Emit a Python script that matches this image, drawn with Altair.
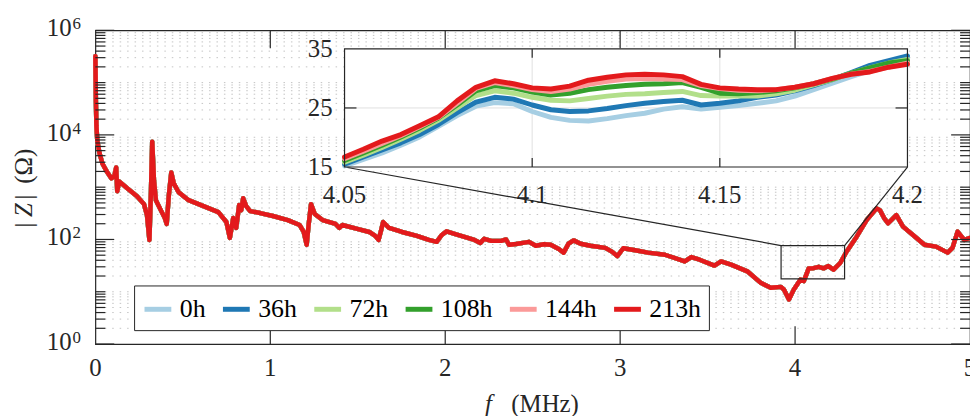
import altair as alt
import pandas as pd

# ---------------- data ----------------
SERIES = ["0h", "36h", "72h", "108h", "144h", "213h"]
COLORS = ["#a6cee3", "#1f78b4", "#b2df8a", "#33a02c", "#fb9a99", "#e31a1c"]

F_MAIN = [0, 0.003, 0.006, 0.011, 0.023, 0.040, 0.068, 0.091, 0.108, 0.119,
          0.125, 0.136, 0.182, 0.238, 0.278, 0.295, 0.309, 0.318, 0.325, 0.335,
          0.346, 0.374, 0.397, 0.408, 0.420, 0.434, 0.448, 0.476, 0.533, 0.618,
          0.703, 0.749, 0.769, 0.788, 0.805, 0.822, 0.834, 0.845, 0.862, 0.885,
          0.942, 1.015, 1.100, 1.168, 1.191, 1.208, 1.219, 1.233, 1.254, 1.299,
          1.373, 1.395, 1.412, 1.497, 1.566, 1.600, 1.619, 1.634, 1.645, 1.679,
          1.753, 1.838, 1.906, 1.951, 1.980, 2.008, 2.053, 2.110, 2.167, 2.201,
          2.223, 2.263, 2.320, 2.348, 2.365, 2.405, 2.462, 2.479, 2.518, 2.564,
          2.603, 2.649, 2.677, 2.705, 2.734, 2.774, 2.830, 2.915, 2.955, 2.984,
          3.018, 3.086, 3.159, 3.256, 3.369, 3.407, 3.454, 3.539, 3.577, 3.634,
          3.727, 3.804, 3.861, 3.918, 3.936, 3.965, 3.993, 4.012, 4.031, 4.050,
          4.078, 4.100, 4.135, 4.163, 4.190, 4.220, 4.258, 4.295, 4.352, 4.409,
          4.466, 4.485, 4.509, 4.532, 4.579, 4.617, 4.674, 4.740, 4.806, 4.872,
          4.900, 4.929, 4.967, 5.0]
Z_MAIN = [318000, 44600, 14960, 7760, 4590, 2840, 1920, 1476, 1610, 2388,
          836, 1294, 953, 672, 474, 293, 98, 873, 7430, 1352,
          564, 364, 257, 198, 702, 1918, 1186, 800, 564, 434,
          334, 216, 107, 257, 166, 454, 364, 615, 434, 349,
          320, 281, 235, 189, 139, 79, 189, 474, 306, 235,
          198, 166, 189, 159, 139, 117, 98, 152, 216, 166,
          139, 117, 98, 90, 122, 143, 128, 112, 98, 86,
          103, 94, 94, 100, 79, 82, 88, 90, 76, 81,
          79, 66, 56, 83, 96, 83, 76, 69, 58, 48,
          68, 62, 56, 51, 38, 46, 41, 31.6, 38, 33,
          24.6, 14.8, 11.9, 12.4, 11.1, 7.1, 11.1, 13.8, 17.1, 16,
          28, 28, 30, 28, 31, 26.5, 35.5, 59, 113, 235,
          393, 364, 257, 204, 293, 176, 122, 79, 73, 56,
          69, 141, 98, 107]

F_INSET = [4.050, 4.055, 4.060, 4.065, 4.070, 4.075, 4.080, 4.085, 4.090, 4.095,
           4.100, 4.105, 4.110, 4.115, 4.120, 4.125, 4.130, 4.135, 4.140, 4.145,
           4.150, 4.155, 4.160, 4.165, 4.170, 4.175, 4.180, 4.185, 4.190, 4.195,
           4.200]
Z_0H = [15.2, 16.3, 17.4, 18.7, 20.1, 21.9, 23.7, 25.3, 25.9, 25.7,
        24.4, 23.4, 22.9, 22.8, 23.2, 23.7, 24.1, 24.8, 25.2, 24.8,
        25.1, 25.4, 25.8, 26.2, 27.0, 28.1, 29.2, 30.3, 31.3, 32.6,
        33.2]
Z_36H = [15.5, 16.7, 17.9, 19.1, 20.5, 22.2, 24.2, 26.0, 26.8, 26.5,
         25.5, 24.7, 24.4, 24.5, 24.9, 25.4, 25.8, 26.1, 26.3, 25.5,
         25.8, 26.2, 26.8, 27.2, 27.9, 28.8, 29.8, 31.0, 32.2, 33.0,
         33.8]
Z_72H = [15.8, 17.0, 18.3, 19.7, 21.2, 22.9, 25.0, 27.1, 27.9, 27.5,
         26.8, 26.3, 26.2, 26.6, 27.0, 27.3, 27.4, 27.6, 27.8, 27.1,
         27.0, 27.0, 27.0, 27.4, 28.0, 28.9, 29.8, 30.9, 31.8, 32.6,
         33.2]
Z_108H = [16.1, 17.4, 18.7, 20.1, 21.6, 23.3, 25.5, 27.9, 28.8, 28.4,
          27.7, 27.2, 27.5, 28.1, 28.5, 28.8, 29.0, 29.1, 29.3, 28.5,
          27.5, 27.4, 27.6, 27.9, 28.4, 29.1, 29.9, 30.9, 31.8, 32.6,
          33.0]
Z_144H = [16.4, 17.7, 19.0, 20.3, 21.8, 23.4, 25.8, 28.3, 29.3, 28.8,
          28.1, 27.8, 28.2, 29.0, 29.5, 29.9, 30.0, 29.9, 29.8, 28.8,
          28.3, 28.0, 27.9, 28.1, 28.5, 29.1, 30.0, 30.7, 31.2, 31.9,
          32.6]
Z_213H = [16.7, 18.0, 19.4, 20.5, 22.0, 23.5, 26.2, 28.5, 29.6, 29.1,
          28.4, 28.2, 28.7, 29.7, 30.2, 30.6, 30.7, 30.6, 30.3, 29.0,
          28.4, 28.2, 28.1, 28.1, 28.5, 29.1, 30.0, 30.7, 31.1, 31.9,
          32.4]
Z_INSET = [Z_0H, Z_36H, Z_72H, Z_108H, Z_144H, Z_213H]

X_TICKS = [0, 1, 2, 3, 4, 5]
X_LABELS = ["0", "1", "2", "3", "4", "5"]
Y_MAJOR = [1, 1e2, 1e4, 1e6]
Y_EXP = ["0", "2", "4", "6"]
Y_MINOR = [m * 10 ** k for k in range(6) for m in range(1, 10) if not (m == 1 and k % 2 == 0)]

INSET_X_TICKS = [4.05, 4.1, 4.15, 4.2]
INSET_X_LABELS = ["4.05", "4.1", "4.15", "4.2"]
INSET_Y_TICKS = [15, 25, 35]
INSET_Y_LABELS = ["15", "25", "35"]
INSET_DOMAIN_X = [4.05, 4.2]
INSET_DOMAIN_Y = [15, 35]

BOX_F = [3.92, 4.283]
BOX_Z = [17.7, 76.5]

# ---------------- layout / style ----------------
W, H = 881, 316
IX0, IX1 = 251, 818          # inset left/right (px in plot area)
IY_TOP, IY_BOT = 18.7, 137.7  # inset top/bottom
FONT = "Liberation Serif"
INK = "#262626"
GRID = "#e0e0e0"
FS = 25

main_df = pd.concat([pd.DataFrame({"f": F_MAIN, "z": Z_MAIN, "s": s}) for s in SERIES])
inset_df = pd.concat([pd.DataFrame({"f": F_INSET, "z": zs, "s": s}) for s, zs in zip(SERIES, Z_INSET)])

color_scale = alt.Scale(domain=SERIES, range=COLORS)
XS = alt.Scale(domain=[0, 5], nice=False, zero=False)
YS = alt.Scale(type="log", domain=[1, 1e6], nice=False)
XI = alt.Scale(domain=INSET_DOMAIN_X, range=[IX0, IX1], nice=False, zero=False)
YI = alt.Scale(domain=INSET_DOMAIN_Y, range=[IY_BOT, IY_TOP], nice=False, zero=False)

legend = alt.Legend(title=None, orient="none", legendX=39, legendY=257, direction="horizontal",
                    symbolType="stroke", symbolStrokeWidth=5, symbolSize=729,
                    labelFont=FONT, labelFontSize=26, labelColor="black",
                    columnPadding=7, labelOffset=6, padding=8, gridAlign="each",
                    strokeColor=INK, fillColor="white")

x_main_axis = alt.Axis(orient="bottom", values=X_TICKS, title=None, grid=True, labels=False,
                       gridColor=GRID, gridWidth=1, ticks=False, domain=False)
y_main_axis = alt.Axis(orient="left", values=Y_MAJOR, labels=False, ticks=False,
                       domain=False, grid=True, gridColor=GRID, gridWidth=1, title=None)


def rule(df, **enc):
    return alt.Chart(df).mark_rule(color=INK, strokeWidth=1.2).encode(**enc)


# ---------------- main panel ----------------
minor_grid = alt.Chart(pd.DataFrame({"z": Y_MINOR})).mark_rule(
    color="#c4c4c4", strokeWidth=1, strokeDash=[1.5, 6]
).encode(y=alt.Y("z:Q", scale=YS, axis=y_main_axis))

main_lines = [
    alt.Chart(main_df).transform_filter(alt.datum.s == s).mark_line(
        strokeWidth=4.5, strokeJoin="round", strokeCap="round"
    ).encode(
        x=alt.X("f:Q", scale=XS, axis=x_main_axis),
        y=alt.Y("z:Q", scale=YS, axis=None),
        color=alt.Color("s:N", scale=color_scale, legend=legend, sort=SERIES),
    )
    for s in SERIES
]

box_df = pd.DataFrame({"f0": [BOX_F[0]], "f1": [BOX_F[1]], "z0": [BOX_Z[0]], "z1": [BOX_Z[1]]})
box = alt.Chart(box_df).mark_rect(fillOpacity=0, stroke=INK, strokeWidth=1.2).encode(
    x=alt.X("f0:Q", scale=XS, axis=None), x2="f1:Q",
    y=alt.Y("z0:Q", scale=YS, axis=None), y2="z1:Q")

conn_l = rule(pd.DataFrame({"f": [BOX_F[0]], "z": [BOX_Z[1]]}),
              x=alt.X("f:Q", scale=XS, axis=None), y=alt.Y("z:Q", scale=YS, axis=None),
              x2=alt.value(IX0), y2=alt.value(IY_BOT))
conn_r = rule(pd.DataFrame({"f": [BOX_F[1]], "z": [BOX_Z[1]]}),
              x=alt.X("f:Q", scale=XS, axis=None), y=alt.Y("z:Q", scale=YS, axis=None),
              x2=alt.value(IX1), y2=alt.value(IY_BOT))

xt_df = pd.DataFrame({"f": X_TICKS[1:-1]})
xt_bot = rule(xt_df, x=alt.X("f:Q", scale=XS, axis=None), y=alt.value(H), y2=alt.value(H - 18))
xt_top = rule(xt_df, x=alt.X("f:Q", scale=XS, axis=None), y=alt.value(0), y2=alt.value(18))
ytM_df = pd.DataFrame({"z": Y_MAJOR})
ytm_df = pd.DataFrame({"z": Y_MINOR})
yt_major_l = rule(ytM_df, y=alt.Y("z:Q", scale=YS, axis=None), x=alt.value(0), x2=alt.value(19))
yt_major_r = rule(ytM_df, y=alt.Y("z:Q", scale=YS, axis=None), x=alt.value(W), x2=alt.value(W - 19))
yt_minor_l = rule(ytm_df, y=alt.Y("z:Q", scale=YS, axis=None), x=alt.value(0), x2=alt.value(10))
yt_minor_r = rule(ytm_df, y=alt.Y("z:Q", scale=YS, axis=None), x=alt.value(W), x2=alt.value(W - 10))

xlab = alt.Chart(pd.DataFrame({"f": X_TICKS, "t": X_LABELS})).mark_text(
    font=FONT, fontSize=FS, align="center", baseline="alphabetic", color=INK
).encode(x=alt.X("f:Q", scale=XS, axis=None), y=alt.value(348), text="t:N")

ylab_df = pd.DataFrame({"z": Y_MAJOR, "base": ["10"] * len(Y_MAJOR), "exp": Y_EXP})
ylab_base = alt.Chart(ylab_df).mark_text(
    font=FONT, fontSize=FS, align="right", baseline="middle", dy=-2, color=INK
).encode(y=alt.Y("z:Q", scale=YS, axis=None), x=alt.value(-24), text="base:N")
ylab_exp = alt.Chart(ylab_df).mark_text(
    font=FONT, fontSize=17, align="left", baseline="alphabetic", dy=-1, color=INK
).encode(y=alt.Y("z:Q", scale=YS, axis=None), x=alt.value(-23), text="exp:N")


def label(txt, x, y, italic=False, angle=0):
    return alt.Chart(pd.DataFrame({"t": [txt]})).mark_text(
        font=FONT, fontSize=FS, align="center", baseline="alphabetic", color=INK,
        fontStyle="italic" if italic else "normal", angle=angle
    ).encode(x=alt.value(x), y=alt.value(y), text="t:N")


xtitle = [label("f", 396, 384, italic=True), label("(MHz)", 453, 384)]
ytitle = [label("|", -64, 196, angle=270), label("Z", -64, 181, italic=True, angle=270),
          label("|", -64, 168, angle=270), label("(Ω)", -64, 137, angle=270)]

main_layer = alt.layer(minor_grid, *main_lines, box, conn_l, conn_r, xt_bot, xt_top,
                       yt_major_l, yt_major_r, yt_minor_l, yt_minor_r, xlab,
                       ylab_base, ylab_exp, *xtitle, *ytitle)

# ---------------- inset ----------------
frame_df = pd.DataFrame({"f0": [INSET_DOMAIN_X[0]], "f1": [INSET_DOMAIN_X[1]],
                         "z0": [INSET_DOMAIN_Y[0]], "z1": [INSET_DOMAIN_Y[1]]})
inset_bg = alt.Chart(frame_df).mark_rect(fill="white", strokeWidth=0).encode(
    x=alt.X("f0:Q", scale=XI, axis=None), x2="f1:Q",
    y=alt.Y("z0:Q", scale=YI, axis=None), y2="z1:Q")
inset_vgrid = alt.Chart(pd.DataFrame({"f": INSET_X_TICKS[1:-1]})).mark_rule(
    color=GRID, strokeWidth=1).encode(
    x=alt.X("f:Q", scale=XI, axis=None), y=alt.value(IY_TOP), y2=alt.value(IY_BOT))
inset_hgrid = alt.Chart(pd.DataFrame({"z": INSET_Y_TICKS[1:-1]})).mark_rule(
    color=GRID, strokeWidth=1).encode(
    y=alt.Y("z:Q", scale=YI, axis=None), x=alt.value(IX0), x2=alt.value(IX1))
inset_lines = [
    alt.Chart(inset_df).transform_filter(alt.datum.s == s).mark_line(
        strokeWidth=5, strokeJoin="round", strokeCap="round"
    ).encode(
        x=alt.X("f:Q", scale=XI, axis=None),
        y=alt.Y("z:Q", scale=YI, axis=None),
        color=alt.Color("s:N", scale=color_scale, legend=None),
    )
    for s in SERIES
]
ixt_df = pd.DataFrame({"f": INSET_X_TICKS[1:-1]})
ixt_bot = rule(ixt_df, x=alt.X("f:Q", scale=XI, axis=None), y=alt.value(IY_BOT), y2=alt.value(IY_BOT - 9))
ixt_top = rule(ixt_df, x=alt.X("f:Q", scale=XI, axis=None), y=alt.value(IY_TOP), y2=alt.value(IY_TOP + 9))
iyt_df = pd.DataFrame({"z": INSET_Y_TICKS[1:-1]})
iyt_l = rule(iyt_df, y=alt.Y("z:Q", scale=YI, axis=None), x=alt.value(IX0), x2=alt.value(IX0 + 12))
iyt_r = rule(iyt_df, y=alt.Y("z:Q", scale=YI, axis=None), x=alt.value(IX1), x2=alt.value(IX1 - 12))
inset_frame = alt.Chart(frame_df).mark_rect(fillOpacity=0, stroke=INK, strokeWidth=1.2).encode(
    x=alt.X("f0:Q", scale=XI, axis=None), x2="f1:Q",
    y=alt.Y("z0:Q", scale=YI, axis=None), y2="z1:Q")
ixlab = alt.Chart(pd.DataFrame({"f": INSET_X_TICKS, "t": INSET_X_LABELS})).mark_text(
    font=FONT, fontSize=FS, align="center", baseline="alphabetic", color=INK
).encode(x=alt.X("f:Q", scale=XI, axis=None), y=alt.value(IY_BOT + 36), text="t:N")
iylab = alt.Chart(pd.DataFrame({"z": INSET_Y_TICKS, "t": INSET_Y_LABELS})).mark_text(
    font=FONT, fontSize=FS, align="right", baseline="middle", color=INK
).encode(y=alt.Y("z:Q", scale=YI, axis=None), x=alt.value(IX0 - 12), text="t:N")

inset_layer = alt.layer(inset_bg, inset_vgrid, inset_hgrid, *inset_lines,
                        ixt_bot, ixt_top, iyt_l, iyt_r, inset_frame, ixlab, iylab)

chart = alt.layer(main_layer, inset_layer).resolve_scale(
    x="independent", y="independent"
).properties(
    width=W, height=H,
    padding={"left": 88, "top": 21, "right": 0, "bottom": 71},
    autosize=alt.AutoSizeParams(type="none"),
).configure_view(stroke=INK, strokeWidth=1.2)

chart.save("out.html", embed_options={"renderer": "svg", "actions": False})
